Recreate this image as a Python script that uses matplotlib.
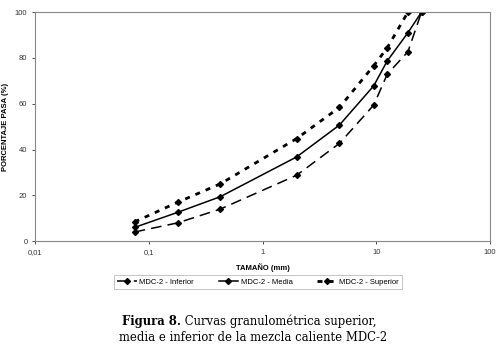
import matplotlib.pyplot as plt
from matplotlib.ticker import FixedLocator, NullLocator

# tamiz (mm) y porcentaje que pasa
tamano = [0.075, 0.18, 0.425, 2, 4.75, 9.5, 12.5, 19, 25]
inferior = [4, 8, 14, 28.8, 42.7, 59.4, 72.9, 82.7, 100]
media = [6, 12.6, 19.4, 36.8, 50.7, 67.8, 78.7, 91, 100]
tamano_sup = [0.075, 0.18, 0.425, 2, 4.75, 9.5, 12.5, 19]
superior = [8.4, 17, 25, 44.8, 58.4, 76.6, 84.4, 100]

xticks = [0.01, 0.1, 1, 10, 100]
xticklabels = ["0,01", "0,1", "1", "10", "100"]
yticks = [0, 20, 40, 60, 80, 100]

plt.rcParams['font.family'] = ['Liberation Sans', 'DejaVu Sans']

fig = plt.figure(figsize=(5.01, 3.45), dpi=100)
ax = fig.add_axes([0.07, 0.301, 0.908, 0.664])

ax.plot(tamano, inferior, color='black', lw=1.1, ls=(0, (7, 4)),
        marker='D', ms=3, label='MDC-2 - Inferior')
ax.plot(tamano, media, color='black', lw=1.1, ls='-',
        marker='D', ms=3, label='MDC-2 - Media')
ax.plot(tamano_sup, superior, color='black', lw=2.0, ls=(0, (1.8, 2.2)),
        marker='D', ms=3, label='MDC-2 - Superior')

ax.set_xscale('log')
ax.set_xlim(0.01, 100)
ax.set_ylim(0, 100)
ax.xaxis.set_major_locator(FixedLocator(xticks))
ax.xaxis.set_minor_locator(NullLocator())
ax.set_xticklabels(xticklabels)
ax.set_yticks(yticks)
ax.tick_params(labelsize=5.5, length=2, width=0.6, colors='#333333')
for s in ax.spines.values():
    s.set_color('#888888')
    s.set_linewidth(0.8)

ax.set_xlabel('TAMAÑO (mm)', fontsize=5.5, fontweight='bold', labelpad=5)
ax.set_ylabel('PORCENTAJE PASA (%)', fontsize=5.5, fontweight='bold', labelpad=4)

leg = fig.legend(loc='center', bbox_to_anchor=(0.515, 0.183), ncol=3,
                 fontsize=5.5, frameon=True, fancybox=False, edgecolor='#aaaaaa',
                 handlelength=2.6, columnspacing=3.2, borderpad=0.4,
                 handletextpad=0.3)
leg.get_frame().set_linewidth(0.6)

t1 = fig.text(0.243, 0.058, 'Figura 8.', fontsize=8.4, fontweight='bold',
              family='DejaVu Serif', ha='left', va='baseline')
ax.annotate(' Curvas granulométrica superior,', xy=(1, 0), xycoords=t1,
            fontsize=8.4, family='DejaVu Serif', ha='left', va='bottom',
            annotation_clip=False)
fig.text(0.505, 0.013, 'media e inferior de la mezcla caliente MDC-2', fontsize=8.4,
         family='DejaVu Serif', ha='center', va='baseline')

fig.savefig('out.png', dpi=100)
